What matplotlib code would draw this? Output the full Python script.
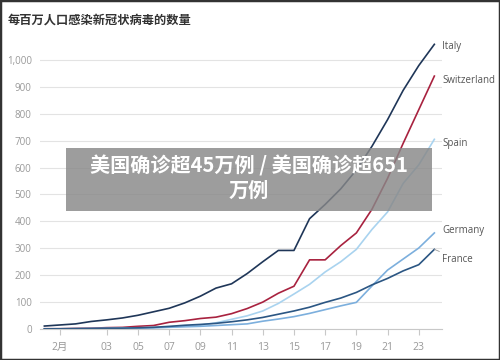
import matplotlib
matplotlib.use("Agg")
import matplotlib.pyplot as plt
from matplotlib.patches import Rectangle

plt.rcParams['font.family'] = ['Open Sans', 'Noto Sans CJK SC', 'DejaVu Sans']

# day index 0 = 2/28 ... 25 = 3/24
days = list(range(26))
tick_days = [1, 4, 6, 8, 10, 12, 14, 16, 18, 20, 22, 24]
tick_labels = ['2月', '03', '05', '07', '09', '11', '13', '15', '17', '19', '21', '23']

italy = [11, 15, 19, 28, 34, 41, 51, 64, 77, 97, 122, 152, 168, 206, 250, 292,
         292, 410, 463, 521, 591, 679, 778, 887, 979, 1058]
switzerland = [1, 1, 2, 3, 5, 6, 10, 13, 25, 31, 39, 44, 57, 76, 100, 133,
               159, 257, 257, 310, 357, 445, 560, 690, 815, 940]
spain = [0.5, 0.7, 1, 1.8, 2.6, 3.5, 4.7, 5.5, 8.5, 10.7, 14.3, 23, 36, 49, 67, 95,
         130, 166, 212, 250, 296, 370, 435, 541, 610, 705]
germany = [0.3, 0.6, 0.8, 1.4, 1.8, 2.3, 2.9, 4.2, 6.4, 8.2, 10, 13, 16, 19, 29, 37,
           46, 58, 72, 86, 99, 160, 219, 260, 301, 357]
france = [0.6, 0.9, 1.5, 1.9, 2.9, 3.2, 4.3, 6.3, 9.7, 14, 17, 21, 27, 34, 43, 55,
          67, 81, 99, 115, 136, 164, 188, 216, 239, 296]

series = [
    ('Italy', italy, '#1f3658', 1050),
    ('Switzerland', switzerland, '#a8223f', 925),
    ('Spain', spain, '#a9d3ef', 690),
    ('Germany', germany, '#7cafdd', 365),
    ('France', france, '#2b5683', 260),
]

fig = plt.figure(figsize=(5, 3.6), dpi=100)
ax = fig.add_axes([0.08, 0.0861, 0.804, 0.796])

ax.set_ylim(0, 1065)
ax.set_xlim(-0.28, 25.49)
ax.set_yticks(range(0, 1001, 100))
ax.set_yticklabels([f'{v:,}' for v in range(0, 1001, 100)])
ax.yaxis.grid(True, color='#e3e3e3', lw=0.8)
ax.set_axisbelow(True)
ax.set_xticks(tick_days)
ax.set_xticklabels(tick_labels)

for s in ['top', 'right', 'left']:
    ax.spines[s].set_visible(False)
ax.spines['bottom'].set_color('#c8c8c8')
ax.tick_params(axis='y', length=0, labelsize=7, labelcolor='#999999', pad=6)
ax.tick_params(axis='x', length=4, color='#c8c8c8', labelsize=7.5,
               labelcolor='#999999', pad=5)

for name, vals, color, ly in series:
    ax.plot(days, vals, color=color, lw=1.2)
    if name == 'France':
        ax.annotate(name, xy=(days[-1], vals[-1]), xytext=(days[-1] + 0.5, ly),
                    textcoords='data', fontsize=7, color='#555555', va='center',
                    arrowprops=dict(arrowstyle='-', color='#999999', lw=0.6,
                                    shrinkA=0, shrinkB=0),
                    annotation_clip=False)
    else:
        ax.text(days[-1] + 0.5, ly, name, fontsize=7, color='#555555',
                va='center', clip_on=False)

fig.text(0.016, 0.945, '每百万人口感染新冠状病毒的数量', fontsize=8.8,
         color='#333333', fontweight='bold', va='center',
         family=['Noto Sans CJK SC', 'DejaVu Sans'])

# grey overlay banner
fig.patches.append(Rectangle((0.132, 0.414), 0.732, 0.175, transform=fig.transFigure,
                             facecolor='#888888', alpha=0.82, edgecolor='none', zorder=5))
fig.text(0.498, 0.505, '美国确诊超45万例 / 美国确诊超651\n万例', ha='center', va='center',
         fontsize=14.5, color='white', fontweight='heavy', linespacing=1.15, zorder=6,
         family=['Noto Sans CJK SC', 'DejaVu Sans'])

# dark frame
fig.patches.append(Rectangle((0, 0), 1, 1, transform=fig.transFigure, fill=False,
                             edgecolor='#333333', lw=2.5, zorder=10))

fig.savefig('out.png', dpi=100)
